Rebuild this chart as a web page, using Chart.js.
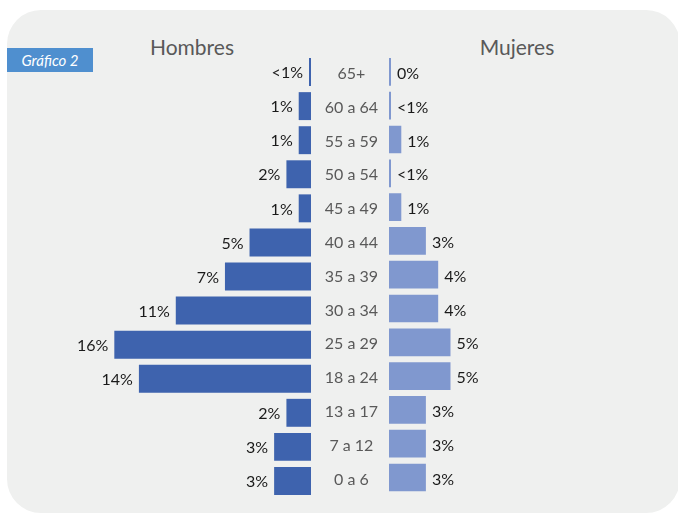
<!DOCTYPE html>
<html>
<head>
<meta charset="utf-8">
<script src="https://cdn.jsdelivr.net/npm/chart.js@4.4.1/dist/chart.umd.min.js"></script>
<style>
  html, body { margin: 0; padding: 0; background: #ffffff; }
  body { width: 678px; height: 515px; position: relative; overflow: hidden; font-family: Lato, sans-serif; }
  #panel { position: absolute; left: 7px; top: 10px; width: 673px; height: 503px; background: #eff0ef; border-radius: 34px; }
  .box { position: absolute; top: 0; height: 515px; }
  #leftBox { left: 0; width: 311px; }
  #rightBox { left: 311px; width: 367px; }
  .title { position: absolute; top: 36px; font-size: 21px; color: #595959; transform: translateX(-50%); white-space: nowrap; line-height: 1; }
  #badge { position: absolute; left: 7px; top: 48px; width: 86px; height: 24px; background: #4f8fcf; color: #ffffff; font-style: italic; font-size: 15px; line-height: 24px; text-align: center; }
</style>
</head>
<body>
<div id="panel"></div>
<div id="badge">Gráfico 2</div>
<div class="title" style="left:192px;">Hombres</div>
<div class="title" style="left:517px;">Mujeres</div>
<div class="box" id="leftBox"><canvas id="leftChart"></canvas></div>
<div class="box" id="rightBox"><canvas id="rightChart"></canvas></div>
<script>
const categories = ['65+', '60 a 64', '55 a 59', '50 a 54', '45 a 49', '40 a 44', '35 a 39', '30 a 34', '25 a 29', '18 a 24', '13 a 17', '7 a 12', '0 a 6'];
const maleValues = [0.1, 1, 1, 2, 1, 5, 7, 11, 16, 14, 2, 3, 3];
const femaleValues = [0, 0.1, 1, 0.1, 1, 3, 4, 4, 5, 5, 3, 3, 3];
const maleLabels = ['<1%', '1%', '1%', '2%', '1%', '5%', '7%', '11%', '16%', '14%', '2%', '3%', '3%'];
const femaleLabels = ['0%', '<1%', '1%', '<1%', '1%', '3%', '4%', '4%', '5%', '5%', '3%', '3%', '3%'];

Chart.defaults.font.family = 'Lato, sans-serif';
Chart.defaults.animation = false;

function valueLabelPlugin(texts, side) {
  return {
    id: 'valueLabels_' + side,
    afterDatasetsDraw(chart) {
      const ctx = chart.ctx;
      const meta = chart.getDatasetMeta(0);
      ctx.save();
      ctx.font = '16px Lato, sans-serif';
      ctx.fillStyle = '#1a1a1a';
      ctx.textBaseline = 'middle';
      meta.data.forEach((bar, i) => {
        if (side === 'left') {
          ctx.textAlign = 'right';
          ctx.fillText(texts[i], bar.x - 6, bar.y + 1);
        } else {
          ctx.textAlign = 'left';
          ctx.fillText(texts[i], bar.x + 6, bar.y + 2);
        }
      });
      ctx.restore();
    }
  };
}

new Chart(document.getElementById('leftChart'), {
  type: 'bar',
  data: {
    labels: categories,
    datasets: [{
      data: maleValues,
      backgroundColor: '#3e63ae',
      barPercentage: 0.82,
      categoryPercentage: 1,
      minBarLength: 2
    }]
  },
  options: {
    indexAxis: 'y',
    responsive: true,
    maintainAspectRatio: false,
    layout: { padding: { top: 55, bottom: 17, left: 0, right: 0 } },
    plugins: { legend: { display: false }, tooltip: { enabled: false } },
    scales: {
      x: { display: false, reverse: true, min: 0, max: 25.3 },
      y: { display: false }
    }
  },
  plugins: [valueLabelPlugin(maleLabels, 'left')]
});

new Chart(document.getElementById('rightChart'), {
  type: 'bar',
  data: {
    labels: categories,
    datasets: [{
      data: femaleValues,
      backgroundColor: '#8098cf',
      barPercentage: 0.82,
      categoryPercentage: 1,
      minBarLength: 2
    }]
  },
  options: {
    indexAxis: 'y',
    responsive: true,
    maintainAspectRatio: false,
    layout: { padding: { top: 55, bottom: 17, left: 0, right: 0 } },
    plugins: { legend: { display: false }, tooltip: { enabled: false } },
    scales: {
      x: { display: false, min: 0, max: 23.5 },
      y: {
        display: true,
        grid: { display: false, drawTicks: false },
        border: { display: false },
        ticks: { color: '#595959', font: { size: 16 }, padding: 11, crossAlign: 'center', labelOffset: 2 },
        afterFit(scale) { scale.width = 78; }
      }
    }
  },
  plugins: [valueLabelPlugin(femaleLabels, 'right')]
});
</script>
</body>
</html>
